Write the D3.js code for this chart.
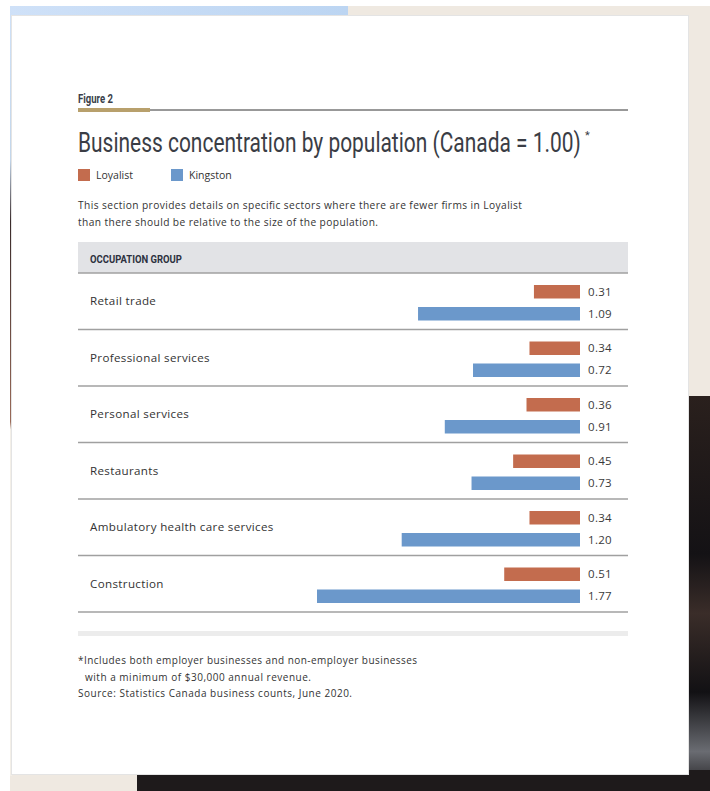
<!DOCTYPE html>
<html>
<head>
<meta charset="utf-8">
<script src="https://cdn.jsdelivr.net/npm/d3@7"></script>
<style>
  html, body { margin: 0; padding: 0; background: #fff; }
  svg { display: block; }
</style>
</head>
<body>
<div id="chart"></div>
<script>
// Data
var categories = ["Retail trade", "Professional services", "Personal services",
                  "Restaurants", "Ambulatory health care services", "Construction"];
var loyalist = [0.31, 0.34, 0.36, 0.45, 0.34, 0.51];
var kingston = [1.09, 0.72, 0.91, 0.73, 1.20, 1.77];
var seriesNames = ["Loyalist", "Kingston"];
var seriesColors = ["#c36c4e", "#6b98cb"];
var intro = ["This section provides details on specific sectors where there are fewer firms in Loyalist",
             "than there should be relative to the size of the population."];
var footnotes = ["*Includes both employer businesses and non-employer businesses",
                 "with a minimum of $30,000 annual revenue.",
                 "Source: Statistics Canada business counts, June 2020."];

var W = 710, H = 791;
var bodyFont = "'Open Sans', 'Noto Sans', sans-serif";
var condFont = "Roboto, 'Liberation Sans', sans-serif";

var svg = d3.select("#chart").append("svg")
    .attr("width", W)
    .attr("height", H);

// squeeze a text horizontally so it spans `width` px (condensed font stand-in)
function condensed(sel, x0, y0, width) {
    sel.attr("x", 0).attr("y", 0);
    var w = sel.node().getComputedTextLength();
    sel.attr("transform", "translate(" + x0 + "," + y0 + ") scale(" + (width / w) + ",1)");
    return sel;
}

// Background photo behind the card (rough stand-in)
var defs = svg.append("defs");
var gBlue = defs.append("linearGradient").attr("id", "gBlue");
gBlue.append("stop").attr("offset", "0%").attr("stop-color", "#cfe1f8");
gBlue.append("stop").attr("offset", "100%").attr("stop-color", "#bcd5f2");
var gDark = defs.append("linearGradient").attr("id", "gDark")
    .attr("x1", 0).attr("y1", 0).attr("x2", 0).attr("y2", 1);
gDark.append("stop").attr("offset", "0%").attr("stop-color", "#2a201d");
gDark.append("stop").attr("offset", "40%").attr("stop-color", "#141215");
gDark.append("stop").attr("offset", "55%").attr("stop-color", "#3a2d29");
gDark.append("stop").attr("offset", "75%").attr("stop-color", "#121114");
gDark.append("stop").attr("offset", "90%").attr("stop-color", "#6a6c72");
gDark.append("stop").attr("offset", "100%").attr("stop-color", "#1c1a1c");
var gLeft = defs.append("linearGradient").attr("id", "gLeft")
    .attr("x1", 0).attr("y1", 0).attr("x2", 0).attr("y2", 1);
gLeft.append("stop").attr("offset", "0%").attr("stop-color", "#cfe1f8");
gLeft.append("stop").attr("offset", "20%").attr("stop-color", "#c3d6ea");
gLeft.append("stop").attr("offset", "28%").attr("stop-color", "#3a2b2b");
gLeft.append("stop").attr("offset", "54%").attr("stop-color", "#9a6a58");
gLeft.append("stop").attr("offset", "55%").attr("stop-color", "#f3efe8");
gLeft.append("stop").attr("offset", "100%").attr("stop-color", "#f3efe8");

var bg = svg.append("g");
bg.append("rect").attr("x", 10).attr("y", 6).attr("width", 700).attr("height", 785).attr("fill", "#efe9e1");
bg.append("rect").attr("x", 10).attr("y", 6).attr("width", 338).attr("height", 10).attr("fill", "url(#gBlue)");
bg.append("rect").attr("x", 10).attr("y", 6).attr("width", 2).attr("height", 770).attr("fill", "url(#gLeft)");
bg.append("rect").attr("x", 688).attr("y", 396).attr("width", 22).attr("height", 395).attr("fill", "url(#gDark)");
bg.append("rect").attr("x", 137).attr("y", 770).attr("width", 573).attr("height", 21).attr("fill", "#1e1a1b");

// White card
svg.append("rect")
    .attr("x", 11.5).attr("y", 15.5)
    .attr("width", 677).attr("height", 759)
    .attr("fill", "#fff")
    .attr("stroke", "#e4e4e4");

// Figure label and rule
condensed(svg.append("text")
    .attr("font-family", condFont).attr("font-weight", "bold")
    .attr("font-size", 12.5).attr("fill", "#3a3f4a")
    .text("Figure 2"), 78, 102.5, 35);
svg.append("line")
    .attr("x1", 150).attr("x2", 628).attr("y1", 110).attr("y2", 110)
    .attr("stroke", "#333").attr("stroke-width", 1);
svg.append("rect")
    .attr("x", 78).attr("y", 108).attr("width", 72).attr("height", 4)
    .attr("fill", "#b8a06c");

// Title
condensed(svg.append("text")
    .attr("font-family", condFont)
    .attr("font-size", 28).attr("fill", "#3a3d45")
    .text("Business concentration by population (Canada = 1.00)"), 78, 152, 503);
svg.append("text")
    .attr("x", 585).attr("y", 139)
    .attr("font-family", condFont)
    .attr("font-size", 11).attr("fill", "#3a3d45")
    .text("*");

// Legend
var legend = svg.append("g").attr("transform", "translate(78,169)");
var legX = [0, 93];
seriesNames.forEach(function(name, i) {
    legend.append("rect")
        .attr("x", legX[i]).attr("y", 0)
        .attr("width", 12).attr("height", 12)
        .attr("fill", seriesColors[i]);
    legend.append("text")
        .attr("x", legX[i] + 18).attr("y", 9.5)
        .attr("font-family", bodyFont).attr("font-size", 10.5)
        .attr("fill", "#333")
        .text(name);
});

// Intro text
var introLen = [444, 300];
svg.selectAll("text.intro")
    .data(intro)
    .enter().append("text")
    .attr("class", "intro")
    .attr("x", 78)
    .attr("y", function(d, i) { return 209 + i * 17; })
    .attr("font-family", bodyFont).attr("font-size", 10.2)
    .attr("fill", "#333")
    .attr("textLength", function(d, i) { return introLen[i]; })
    .attr("lengthAdjust", "spacing")
    .text(function(d) { return d; });

// Table header
svg.append("rect")
    .attr("x", 78).attr("y", 242).attr("width", 550).attr("height", 31)
    .attr("fill", "#e2e3e6");
condensed(svg.append("text")
    .attr("font-family", condFont).attr("font-weight", "bold")
    .attr("font-size", 10.8).attr("fill", "#2d3140")
    .text("OCCUPATION GROUP"), 90, 262.5, 92);

// Scales
var y = d3.scaleBand()
    .domain(categories)
    .range([273, 612]);

var x = d3.scaleLinear()
    .domain([0, 1.77])
    .range([0, 263]);
var barRight = 580;
var barH = 13.5;

// Row separators
svg.selectAll("line.sep")
    .data(d3.range(categories.length + 1))
    .enter().append("line")
    .attr("class", "sep")
    .attr("x1", 78).attr("x2", 628)
    .attr("y1", function(i) { return i < categories.length ? y(categories[i]) : y.range()[1]; })
    .attr("y2", function(i) { return i < categories.length ? y(categories[i]) : y.range()[1]; })
    .attr("stroke", "#a0a0a0").attr("stroke-width", 1.3);

// Category labels
svg.selectAll("text.cat")
    .data(categories)
    .enter().append("text")
    .attr("class", "cat")
    .attr("x", 90)
    .attr("y", function(d) { return y(d) + y.bandwidth() / 2 + 4; })
    .attr("font-family", bodyFont).attr("font-size", 11.6)
    .attr("letter-spacing", 0.35)
    .attr("fill", "#333")
    .text(function(d) { return d; });

// Bars
var rows = [loyalist, kingston];
var offsets = [12, 34];
rows.forEach(function(vals, s) {
    svg.selectAll("rect.bar" + s)
        .data(vals)
        .enter().append("rect")
        .attr("class", "bar" + s)
        .attr("x", function(d) { return barRight - x(d); })
        .attr("y", function(d, i) { return y(categories[i]) + offsets[s]; })
        .attr("width", function(d) { return x(d); })
        .attr("height", barH)
        .attr("fill", seriesColors[s]);

    svg.selectAll("text.val" + s)
        .data(vals)
        .enter().append("text")
        .attr("class", "val" + s)
        .attr("x", barRight + 8)
        .attr("y", function(d, i) { return y(categories[i]) + offsets[s] + barH / 2 + 4; })
        .attr("font-family", bodyFont).attr("font-size", 11.5)
        .attr("font-weight", 500)
        .attr("letter-spacing", 0.3)
        .attr("fill", "#3a3a3a")
        .text(function(d) { return d3.format(".2f")(d); });
});

// Light band under table
svg.append("rect")
    .attr("x", 78).attr("y", 631).attr("width", 550).attr("height", 5)
    .attr("fill", "#ececec");

// Footnotes
var footX = [78, 85, 78];
var footLen = [339, 226, 274];
svg.selectAll("text.foot")
    .data(footnotes)
    .enter().append("text")
    .attr("class", "foot")
    .attr("x", function(d, i) { return footX[i]; })
    .attr("y", function(d, i) { return 664 + i * 16.5; })
    .attr("font-family", bodyFont).attr("font-size", 10)
    .attr("fill", "#333")
    .attr("textLength", function(d, i) { return footLen[i]; })
    .attr("lengthAdjust", "spacing")
    .text(function(d) { return d; });
</script>
</body>
</html>
